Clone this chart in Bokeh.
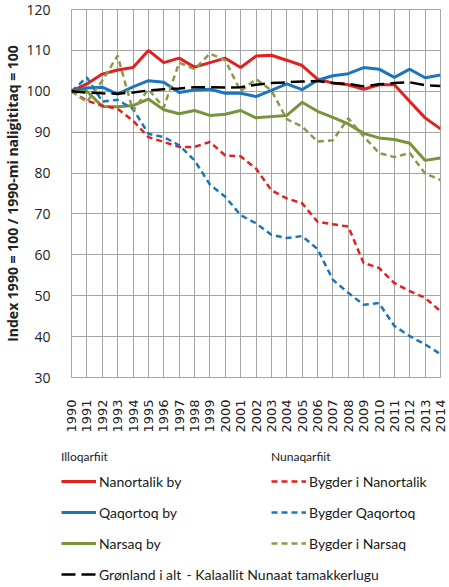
from bokeh.plotting import figure
from bokeh.models import Range1d, FixedTicker, Legend, LegendItem, Label
from bokeh.layouts import column
from bokeh.embed import file_html
from bokeh.resources import INLINE
import math

years = list(range(1990, 2015))
year_labels = [str(y) for y in years]
y_ticks = [30, 40, 50, 60, 70, 80, 90, 100, 110, 120]

nanortalik_by = [100, 101.8, 104.2, 105.2, 105.8, 110.0, 107.0, 108.1, 105.9, 107.0, 108.1, 105.8,
                 108.6, 108.8, 107.6, 106.3, 103.0, 102.0, 101.6, 100.5, 101.6, 101.6, 97.5, 93.5, 90.8]
qaqortoq_by = [100, 100.8, 101.0, 99.3, 101.1, 102.6, 102.2, 99.7, 100.3, 100.5, 99.5, 99.5,
               98.7, 100.2, 101.8, 100.4, 102.7, 103.8, 104.3, 105.8, 105.4, 103.4, 105.4, 103.3, 104.0]
narsaq_by = [100, 100.0, 96.3, 96.2, 96.5, 98.1, 95.5, 94.5, 95.3, 94.1, 94.4, 95.3,
             93.5, 93.8, 94.1, 97.3, 95.1, 93.6, 92.0, 89.7, 88.6, 88.2, 87.3, 83.1, 83.7]
bygder_nanortalik = [100, 97.7, 96.5, 95.7, 92.8, 88.8, 87.6, 86.4, 86.4, 87.6, 84.3, 84.1,
                     81.1, 75.8, 73.8, 72.6, 68.1, 67.5, 66.9, 58.0, 56.8, 53.1, 51.1, 49.5, 46.2]
bygder_qaqortoq = [100, 103.4, 97.5, 97.9, 95.7, 89.6, 88.8, 86.8, 83.1, 77.2, 74.2, 69.7,
                   67.7, 64.9, 64.1, 64.6, 61.4, 53.9, 50.7, 47.8, 48.2, 42.6, 40.1, 38.1, 35.7]
bygder_narsaq = [100, 97.4, 102.6, 108.7, 95.2, 100.5, 96.0, 107.0, 105.4, 109.2, 107.6, 100.0,
                 103.0, 100.2, 93.2, 91.4, 87.7, 88.0, 93.4, 89.0, 84.9, 83.9, 84.9, 79.9, 78.3]
groenland = [100, 99.7, 99.5, 99.4, 99.7, 100.2, 100.5, 100.7, 101.0, 101.0, 100.9, 101.0,
             101.6, 102.0, 102.2, 102.4, 102.5, 102.0, 101.8, 101.2, 101.7, 102.0, 102.2, 101.5, 101.3]

series = [
    ("Nanortalik by", nanortalik_by, "#e3201c", 3.0, "solid"),
    ("Qaqortoq by", qaqortoq_by, "#1b75bc", 3.0, "solid"),
    ("Narsaq by", narsaq_by, "#77933c", 3.0, "solid"),
    ("Bygder i Nanortalik", bygder_nanortalik, "#e3201c", 2.5, "6 4"),
    ("Bygder Qaqortoq", bygder_qaqortoq, "#1b75bc", 2.5, "6 4"),
    ("Bygder i Narsaq", bygder_narsaq, "#8a9a4b", 2.5, "6 4"),
    ("Grønland i alt", groenland, "#000000", 2.5, "14 6"),
]
GRID = "#a6a6a6"
TXT = "#1a1a1a"

p = figure(frame_width=369, frame_height=368, output_backend="svg", toolbar_location=None,
           x_range=Range1d(1990, 2014), y_range=Range1d(30, 120),
           min_border_left=64, min_border_right=7, min_border_top=9, min_border_bottom=50)
p.frame_align = False
p.background_fill_color = "white"
p.border_fill_color = "white"
p.outline_line_color = GRID
p.outline_line_width = 1

p.xaxis.ticker = FixedTicker(ticks=years)
p.xaxis.major_label_overrides = {y: s for y, s in zip(years, year_labels)}
p.xaxis.major_label_orientation = math.pi / 2
p.xaxis.major_label_text_font = "DejaVu Sans"
p.xaxis.major_label_text_font_size = "13px"
p.xaxis.major_label_text_color = "#222222"
p.xaxis.major_label_standoff = 16
p.yaxis.ticker = FixedTicker(ticks=y_ticks)
p.yaxis.major_label_text_font = "Open Sans"
p.yaxis.major_label_text_font_size = "14px"
p.yaxis.major_label_text_color = "#222222"
p.yaxis.major_label_standoff = 15
p.yaxis.axis_label = "Index 1990 = 100 / 1990-mi naligititaq = 100"
p.yaxis.axis_label_text_font = "Open Sans"
p.yaxis.axis_label_text_font_size = "14px"
p.yaxis.axis_label_text_font_style = "bold"
p.yaxis.axis_label_text_color = "#222222"
p.yaxis.axis_label_text_line_height = 1.0
p.yaxis.axis_label_standoff = 1
for ax in (p.xaxis, p.yaxis):
    ax.axis_line_color = None
    ax.major_tick_line_color = None
    ax.minor_tick_line_color = None

p.xgrid.ticker = FixedTicker(ticks=years)
p.ygrid.ticker = FixedTicker(ticks=y_ticks)
p.xgrid.grid_line_color = GRID
p.ygrid.grid_line_color = GRID
p.xgrid.grid_line_width = 1
p.ygrid.grid_line_width = 1

for name, vals, col, lw, dash in series:
    p.line(years, vals, line_color=col, line_width=lw, line_dash=dash)

# legend panel (separate figure below the chart); its own copies of the series
# lie outside its ranges and only feed the legend swatches
q = figure(width=440, height=152, output_backend="svg", toolbar_location=None,
           x_range=Range1d(0, 440), y_range=Range1d(0, 152),
           x_axis_type=None, y_axis_type=None,
           min_border_left=0, min_border_right=0, min_border_top=0, min_border_bottom=0)
q.frame_align = False
q.outline_line_color = None
q.grid.visible = False
q.background_fill_color = "white"
q.border_fill_color = "white"

swatch = {}
for name, vals, col, lw, dash in series:
    swatch[name] = q.line(years, vals, line_color=col, line_width=lw, line_dash=dash)


def style(lg):
    lg.background_fill_alpha = 0
    lg.border_line_color = None
    lg.padding = 0
    lg.margin = 0
    lg.spacing = 11
    lg.label_height = 20
    lg.glyph_height = 20
    lg.glyph_width = 35
    lg.label_standoff = 3
    lg.label_text_font = "Lato"
    lg.label_text_font_size = "14px"
    lg.label_text_color = TXT
    lg.title_text_font = "Lato"
    lg.title_text_font_size = "12px"
    lg.title_text_font_style = "normal"
    lg.title_text_color = TXT
    lg.title_standoff = 7


left_names = ["Nanortalik by", "Qaqortoq by", "Narsaq by", "Grønland i alt"]
right_names = ["Bygder i Nanortalik", "Bygder Qaqortoq", "Bygder i Narsaq"]
leg_left = Legend(items=[LegendItem(label=n, renderers=[swatch[n]]) for n in left_names],
                  title="Illoqarfiit", location=(61, 3))
leg_right = Legend(items=[LegendItem(label=n, renderers=[swatch[n]]) for n in right_names],
                   title="Nunaqarfiit", location=(271, 34))
style(leg_left)
style(leg_right)
q.add_layout(leg_left)
q.add_layout(leg_right)

note = Label(x=186, y=13, x_units="screen", y_units="screen",
             text="- Kalaallit Nunaat tamakkerlugu", text_baseline="middle",
             text_font="Lato", text_font_size="14px", text_color=TXT)
q.add_layout(note)

layout = column(p, q, spacing=0)
open("out.html", "w").write(file_html(layout, INLINE))
